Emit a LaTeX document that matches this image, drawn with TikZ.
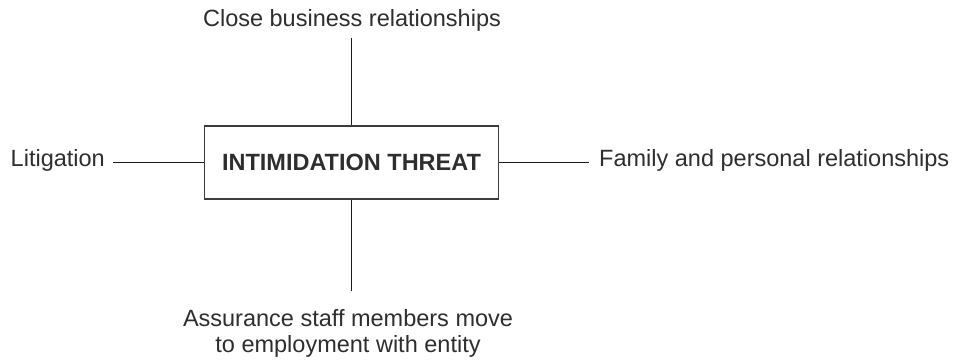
\documentclass[tikz,border=0pt]{standalone}
\usepackage{fontspec}
\setmainfont{Liberation Sans}
\definecolor{ink}{HTML}{2E2E2E}
\definecolor{rule}{HTML}{1A1A1A}
\begin{document}
\begin{tikzpicture}[x=1pt,y=-1pt,
  lbl/.style={text=ink,inner sep=0pt,font=\fontsize{23.5}{26}\selectfont},
  threat/.style={draw=rule!85!white,line width=1.6pt,minimum width=294pt,minimum height=73pt,
    inner sep=0pt,text=ink,font=\fontsize{23.5}{26}\selectfont\bfseries},
  link/.style={draw=rule,line width=1.6pt}]
\useasboundingbox (0,0) rectangle (958,360);

\node[threat] (box) at (351.5,162.5) {INTIMIDATION THREAT};

\node[lbl,anchor=base] (top) at (352,26) {Close business relationships};
\node[lbl,anchor=base east] (left) at (105,166) {Litigation};
\node[lbl,anchor=base west] (right) at (599,166) {Family and personal relationships};
% base of a multi-line node sits on its last line
\node[lbl,anchor=base,align=center] (bottom) at (348,352)
  {Assurance staff members move\\to employment with entity};

\coordinate (topend) at (box.north |- 0,38);
\coordinate (botend) at (box.south |- 0,291);
\coordinate (leftend) at (113,0 |- box.west);
\coordinate (rightend) at (589,0 |- box.east);

\draw[link] (box.north) -- (topend);
\draw[link] (box.south) -- (botend);
\draw[link] (box.west) -- (leftend);
\draw[link] (box.east) -- (rightend);
\end{tikzpicture}
\end{document}
